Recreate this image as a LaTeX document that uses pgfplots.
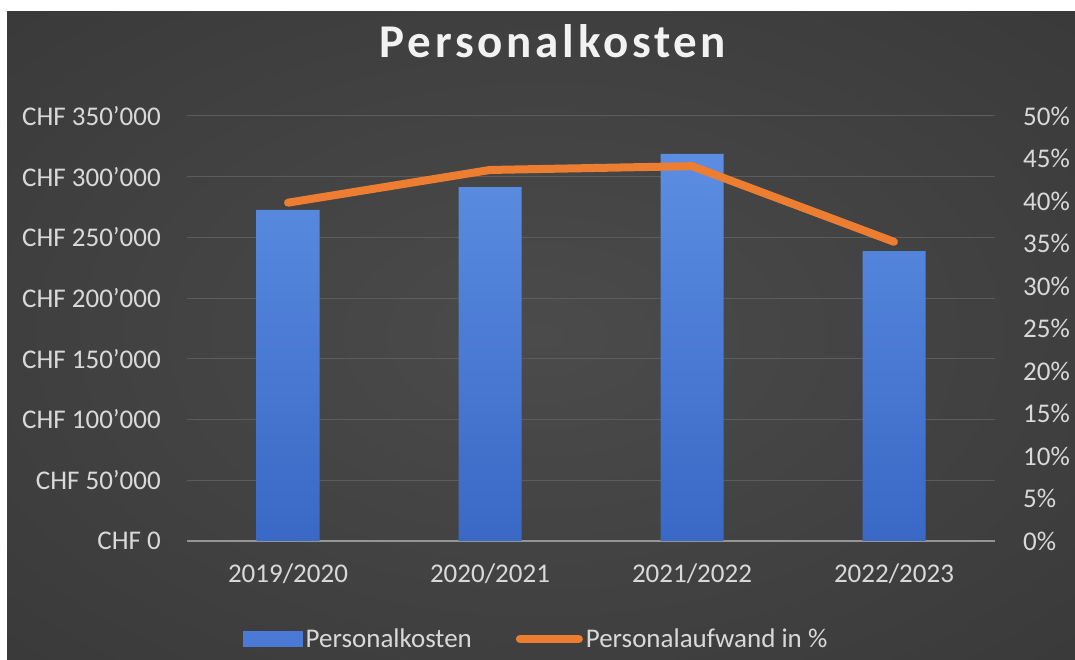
\documentclass[border=0pt]{standalone}
\usepackage{fontspec}
\setmainfont{Carlito}
\newfontfamily\titlefont[LetterSpace=8]{Carlito}
\usepackage{pgfplots}
\pgfplotsset{compat=1.18}
\definecolor{bgin}{HTML}{4B4B4B}
\definecolor{bgout}{HTML}{282828}
\definecolor{labc}{HTML}{D9D9D9}
\definecolor{titc}{HTML}{F2F2F2}
\definecolor{gridc}{HTML}{5C5C5C}
\definecolor{axc}{HTML}{959595}
\definecolor{bartop}{HTML}{5B8EE2}
\definecolor{barbot}{HTML}{3A68C6}
\definecolor{barmid}{HTML}{4A7AD6}
\definecolor{lineor}{HTML}{ED7D31}
\pgfdeclareradialshading{bgshade}{\pgfpoint{0bp}{0bp}}{color(0bp)=(bgin); color(72bp)=(bgout); color(73bp)=(bgout)}
\begin{document}
\begin{tikzpicture}[x=1pt,y=1pt]
\useasboundingbox (0,0) rectangle (1075,660);
\fill[white] (0,0) rectangle (1075,660);
\shade[shading=bgshade] (7,0) rectangle (1075,648);
\begin{axis}[
  at={(187pt,119pt)}, anchor=south west, scale only axis,
  width=808pt, height=425pt,
  xmin=-0.5, xmax=3.5, ymin=0, ymax=350000,
  scaled y ticks=false,
  axis lines*=left,
  x axis line style={draw=axc, line width=1.5pt},
  y axis line style={draw=none},
  xtick={0,1,2,3},
  xticklabels={2019/2020,2020/2021,2021/2022,2022/2023},
  ytick={0,50000,100000,150000,200000,250000,300000,350000},
  yticklabels={CHF 0,CHF 50’000,CHF 100’000,CHF 150’000,CHF 200’000,CHF 250’000,CHF 300’000,CHF 350’000},
  ymajorgrids, grid style={draw=gridc, line width=1pt},
  major tick length=0pt, tick style={draw=none},
  ticklabel style={font=\fontsize{27}{30}\selectfont, text=labc},
  yticklabel style={anchor=east, inner sep=0pt, xshift=-26pt},
  xticklabel style={anchor=center, inner sep=0pt, yshift=-33pt},
  title={Personalkosten},
  title style={at={(0.453,1.162)}, anchor=center, inner sep=0pt,
    font=\titlefont\bfseries\fontsize{47}{50}\selectfont, text=titc},
]
\addplot[ybar, bar width=63pt, bar shift=0pt, draw=none, top color=bartop, bottom color=barbot]
  coordinates {(0,272600) (1,291500) (2,318700) (3,238800)};
\end{axis}
\begin{axis}[
  at={(187pt,119pt)}, anchor=south west, scale only axis,
  width=808pt, height=425pt,
  xmin=-0.5, xmax=3.5, ymin=0, ymax=50,
  axis x line=none, axis y line*=right,
  y axis line style={draw=none},
  ytick={0,5,10,15,20,25,30,35,40,45,50},
  yticklabels={0\%,5\%,10\%,15\%,20\%,25\%,30\%,35\%,40\%,45\%,50\%},
  major tick length=0pt, tick style={draw=none},
  ticklabel style={font=\fontsize{27}{30}\selectfont, text=labc},
  yticklabel style={anchor=west, inner sep=0pt, xshift=28pt},
  legend columns=2,
  legend style={at={(0.433,-0.2306)}, anchor=center, draw=none, fill=none,
    font=\fontsize{27}{30}\selectfont, text=labc,
    /tikz/every even column/.append style={column sep=41pt},
    nodes={inner xsep=3pt, inner ysep=1pt}},
]
\addlegendimage{legend image code/.code={\fill[barmid] (0pt,-7.5pt) rectangle (59pt,7.5pt);}}
\addlegendentry{Personalkosten}
\addplot[lineor, line width=8pt, line cap=round, line join=round, mark=none,
  legend image code/.code={\draw[lineor, line width=8pt, line cap=round] (4pt,0pt) -- (63pt,0pt);}]
  coordinates {(0,39.8) (1,43.65) (2,44.1) (3,35.2)};
\addlegendentry{Personalaufwand in \%}
\end{axis}
\end{tikzpicture}
\end{document}
